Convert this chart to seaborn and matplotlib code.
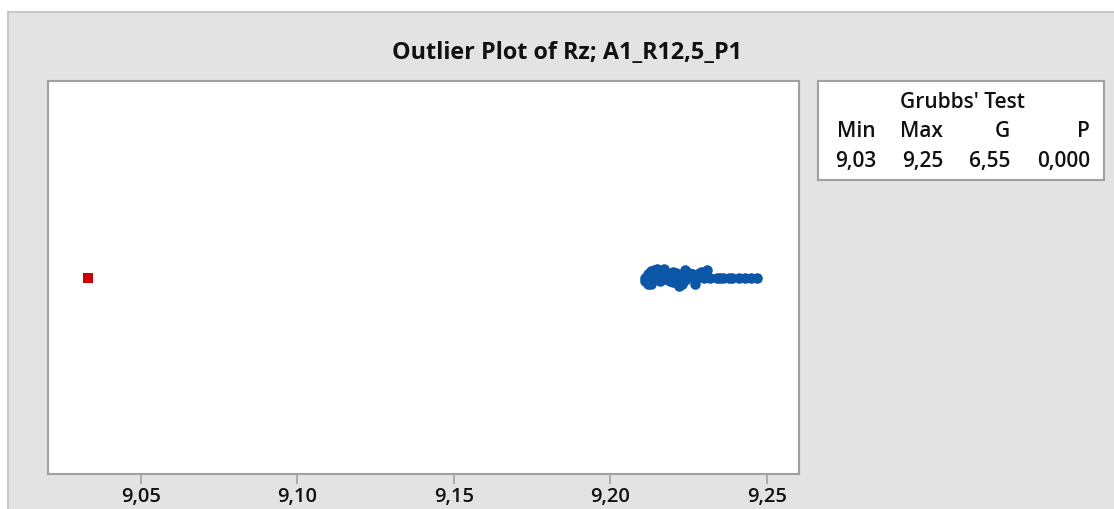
import matplotlib
matplotlib.use("Agg")
import matplotlib.pyplot as plt
import numpy as np
import pandas as pd
import seaborn as sns
from matplotlib.patches import Rectangle
from matplotlib.ticker import FuncFormatter

# Rz measurements read off the outlier plot
# dense part (repeated values get stacked / jittered)
rz_cluster = [
    9.211, 9.211, 9.212, 9.212, 9.212, 9.213, 9.213, 9.214, 9.214, 9.214,
    9.215, 9.215, 9.216, 9.216, 9.216, 9.217, 9.217, 9.218, 9.218, 9.218,
    9.219, 9.219, 9.220, 9.220, 9.220, 9.220, 9.221, 9.221, 9.221, 9.222,
    9.222, 9.222, 9.223, 9.223, 9.223, 9.224, 9.224, 9.224, 9.225, 9.225,
    9.225, 9.226, 9.226, 9.226, 9.227, 9.227, 9.227, 9.228, 9.228, 9.229,
    9.229, 9.230, 9.230, 9.231,
]
# single values in the upper tail
rz_tail = [9.232, 9.234, 9.235, 9.236, 9.238, 9.239, 9.241, 9.243, 9.245, 9.247]
outlier_values = [9.033]

x_ticks = [9.05, 9.10, 9.15, 9.20, 9.25]
title = "Outlier Plot of Rz; A1_R12,5_P1"
table_title = "Grubbs' Test"
table_header = ["Min", "Max", "G", "P"]
table_values = ["9,03", "9,25", "6,55", "0,000"]

sns.set_style("white")
plt.rcParams["font.family"] = ["Open Sans", "DejaVu Sans"]
np.random.seed(3)

W, H = 1114, 510
fig = plt.figure(figsize=(W / 100, H / 100), dpi=100)
fig.patch.set_facecolor("white")

# grey outer panel, drawn below the axes
fig.patches.append(Rectangle((8 / W, -0.1), 1.2, 1 - 13 / H + 0.1,
                             transform=fig.transFigure, facecolor="#e3e3e3",
                             edgecolor="#c8c8c8", linewidth=1.5, zorder=-1))

ax = fig.add_axes([48.3 / W, (H - 475) / H, 750.7 / W, 393 / H])
ax.set_zorder(1)
ax.set_facecolor("white")

blue = "#0b56a6"
sns.stripplot(data=pd.DataFrame({"Rz": rz_cluster}), x="Rz", ax=ax, color=blue,
              size=7.6, jitter=0.022, linewidth=0)
sns.stripplot(data=pd.DataFrame({"Rz": rz_tail}), x="Rz", ax=ax, color=blue,
              size=7.6, jitter=False, linewidth=0)
sns.stripplot(data=pd.DataFrame({"Rz": outlier_values}), x="Rz", ax=ax,
              color="#cc0000", size=7.4, marker="s", jitter=False, linewidth=0)

ax.set_xlim(9.0204, 9.2603)
ax.set_ylim(0.5, -0.5)
ax.set_xticks(x_ticks)
ax.xaxis.set_major_formatter(FuncFormatter(lambda v, p: f"{v:.2f}".replace(".", ",")))
ax.set_yticks([])
ax.set_xlabel("")
ax.set_ylabel("")
ax.tick_params(axis="x", length=7, width=1.2, color="#a0a0a0", pad=2,
               labelsize=14.5, labelcolor="#111111", bottom=True)
for lbl in ax.get_xticklabels():
    lbl.set_fontweight("semibold")
for s in ax.spines.values():
    s.set_visible(True)
    s.set_color("#a0a0a0")
    s.set_linewidth(1.5)

fig.text(567 / W, (H - 53) / H, title, ha="center", va="center",
         fontsize=16.8, fontweight="bold", color="#111111")

# Grubbs' test table
fig.patches.append(Rectangle((818 / W, (H - 181) / H), 286 / W, 99 / H,
                             transform=fig.transFigure, facecolor="white",
                             edgecolor="#a0a0a0", linewidth=1.5, zorder=1))
fig.text(962 / W, (H - 103) / H, table_title, ha="center", va="center",
         fontsize=15, fontweight="semibold", color="#111111")
col_right = [876, 943, 1010, 1090]
for xr, hd, val in zip(col_right, table_header, table_values):
    fig.text(xr / W, (H - 132) / H, hd, ha="right", va="center",
             fontsize=15, fontweight="semibold", color="#111111")
    fig.text(xr / W, (H - 162) / H, val, ha="right", va="center",
             fontsize=15, fontweight="semibold", color="#111111")

fig.savefig("out.png", dpi=100)
